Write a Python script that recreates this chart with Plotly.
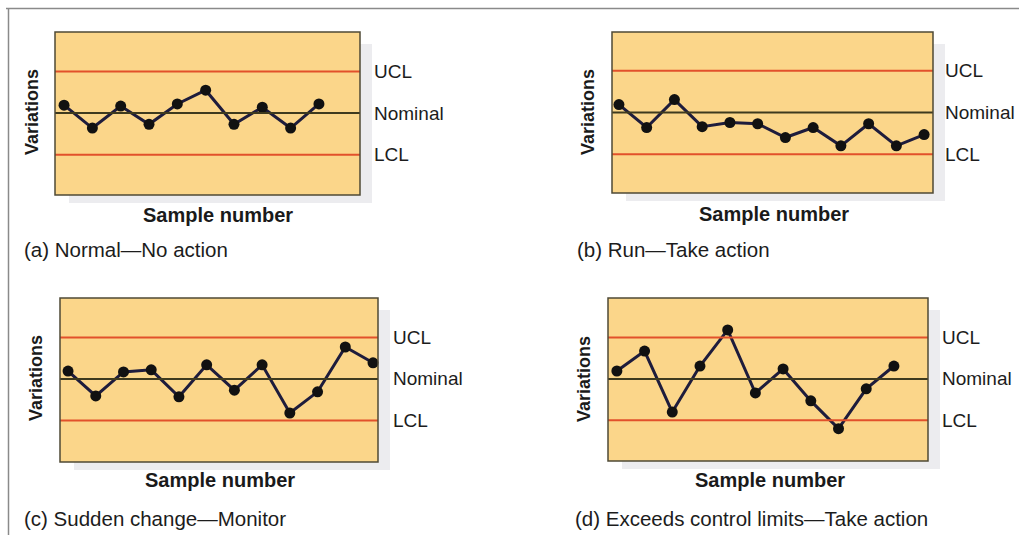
import plotly.graph_objects as go

# ---- data ----
nominal = 0.0
ucl = 1.0
lcl = -1.0

samples_a = list(range(1, 11))
values_a = [0.19, -0.36, 0.17, -0.27, 0.22, 0.55, -0.27, 0.14, -0.36, 0.22]

samples_b = list(range(1, 13))
values_b = [0.19, -0.36, 0.31, -0.34, -0.24, -0.27, -0.60, -0.36, -0.80, -0.27, -0.80, -0.53]

samples_c = list(range(1, 13))
values_c = [0.19, -0.41, 0.17, 0.22, -0.43, 0.34, -0.27, 0.34, -0.82, -0.31, 0.77, 0.39]

samples_d = list(range(1, 12))
values_d = [0.19, 0.67, -0.80, 0.31, 1.18, -0.34, 0.24, -0.53, -1.20, -0.24, 0.31]

captions = ["(a) Normal\u2014No action", "(b) Run\u2014Take action",
            "(c) Sudden change\u2014Monitor", "(d) Exceeds control limits\u2014Take action"]
limit_labels = ["UCL", "Nominal", "LCL"]
x_title = "Sample number"
y_title = "Variations"

W, H = 1019, 535

def px(x):
    return x / W

def py(y):
    return 1 - y / H

# panel layout in page pixels: (left, right, top, bottom), x-range, y-range
panels = [
    dict(x=samples_a, y=values_a, box=(55, 360, 32, 195), xr=[0.68, 11.45], yr=[-1.97, 1.95],
         lab_x=372, st=(218, 215), vt=(32, 112), cap=(22, 249)),
    dict(x=samples_b, y=values_b, box=(612, 933, 32, 193), xr=[0.75, 12.32], yr=[-1.93, 1.93],
         lab_x=943, st=(774, 214), vt=(588, 112), cap=(575, 249)),
    dict(x=samples_c, y=values_c, box=(60, 378, 298, 462), xr=[0.71, 12.18], yr=[-2.0, 1.95],
         lab_x=391, st=(220, 480), vt=(36, 378), cap=(22, 518)),
    dict(x=samples_d, y=values_d, box=(608, 928, 298, 461), xr=[0.68, 12.23], yr=[-1.98, 1.95],
         lab_x=940, st=(770, 480), vt=(584, 379), cap=(573, 518)),
]

FILL = "#FBD68A"
RED = "#E2512B"
NOM = "#3E3A1E"
LINE = "#1E1C3C"
FONT = "Liberation Sans, Arial, Helvetica, sans-serif"

fig = go.Figure()
layout = dict(
    width=W, height=H, margin=dict(l=0, r=0, t=0, b=0),
    paper_bgcolor="white", plot_bgcolor=FILL, showlegend=False,
)
shapes = []
annotations = []

# outer frame lines
shapes.append(dict(type="line", xref="paper", yref="paper", x0=px(6), x1=1, y0=py(8.5), y1=py(8.5),
                   line=dict(color="#8a8a8a", width=1.5)))
shapes.append(dict(type="line", xref="paper", yref="paper", x0=px(8.5), x1=px(8.5), y0=py(8), y1=0,
                   line=dict(color="#8a8a8a", width=1.5)))

for i, p in enumerate(panels):
    n = "" if i == 0 else str(i + 1)
    xa, ya = "x" + n, "y" + n
    l, r, t, b = p["box"]
    layout["xaxis" + n] = dict(domain=[px(l), px(r)], range=p["xr"], showticklabels=False,
                               showgrid=False, zeroline=False, showline=False, ticks="",
                               anchor=ya, fixedrange=True)
    layout["yaxis" + n] = dict(domain=[py(b), py(t)], range=p["yr"], showticklabels=False,
                               showgrid=False, zeroline=False, showline=False, ticks="",
                               anchor=xa, fixedrange=True)
    # drop shadow
    shapes.append(dict(type="rect", xref="paper", yref="paper", layer="below",
                       x0=px(l + 14), x1=px(r + 12), y0=py(b + 8), y1=py(t + 12),
                       fillcolor="#ECECEF", line=dict(width=0)))
    shapes.append(dict(type="rect", xref="paper", yref="paper", layer="below",
                       x0=px(l), x1=px(r), y0=py(b), y1=py(t),
                       fillcolor=FILL, line=dict(width=0)))
    # control lines
    for val, col in ((ucl, RED), (lcl, RED), (nominal, NOM)):
        shapes.append(dict(type="line", xref=xa + " domain", yref=ya, x0=0, x1=1, y0=val, y1=val,
                           line=dict(color=col, width=2)))
    # box border
    shapes.append(dict(type="rect", xref=xa + " domain", yref=ya + " domain", x0=0, x1=1, y0=0, y1=1,
                       line=dict(color="#4F4A36", width=1.5)))
    fig.add_trace(go.Scatter(x=p["x"], y=p["y"], xaxis=xa, yaxis=ya, mode="lines+markers",
                             line=dict(color=LINE, width=3),
                             marker=dict(color="#111111", size=11), cliponaxis=False,
                             hoverinfo="skip"))
    # limit labels
    for val, txt in zip((ucl, nominal, lcl), limit_labels):
        annotations.append(dict(xref="paper", yref=ya, x=px(p["lab_x"]), y=val, text=txt,
                                showarrow=False, xanchor="left", yanchor="middle",
                                font=dict(family=FONT, size=19, color="#1c1c1c")))
    annotations.append(dict(xref="paper", yref="paper", x=px(p["st"][0]), y=py(p["st"][1]),
                            text="<b>" + x_title + "</b>", showarrow=False,
                            xanchor="center", yanchor="middle",
                            font=dict(family=FONT, size=20, color="#1a1a1a")))
    annotations.append(dict(xref="paper", yref="paper", x=px(p["vt"][0]), y=py(p["vt"][1]),
                            text="<b>" + y_title + "</b>", showarrow=False, textangle=-90,
                            xanchor="center", yanchor="middle",
                            font=dict(family=FONT, size=18, color="#1a1a1a")))
    annotations.append(dict(xref="paper", yref="paper", x=px(p["cap"][0]), y=py(p["cap"][1]),
                            text=captions[i], showarrow=False, xanchor="left", yanchor="middle",
                            font=dict(family=FONT, size=20.5, color="#1c1c1c")))

layout["shapes"] = shapes
layout["annotations"] = annotations
fig.update_layout(**layout)
fig.write_html("out.html",
               config={"displayModeBar": False, "staticPlot": True},
               post_script="document.body.style.margin='0';document.body.style.overflow='hidden';")
